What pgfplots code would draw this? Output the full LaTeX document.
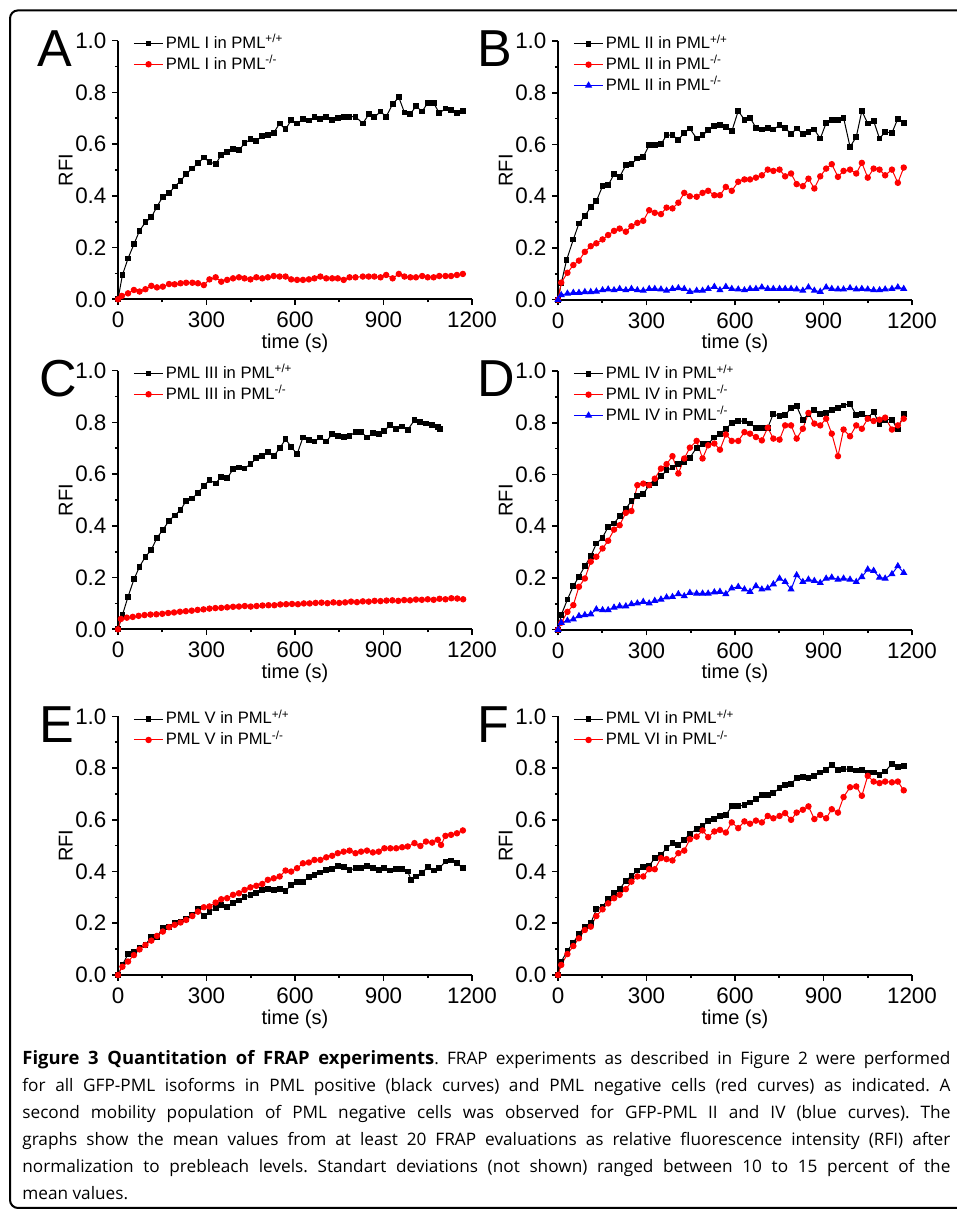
\documentclass[border=0pt]{standalone}
\usepackage{pgfplots}
\pgfplotsset{compat=1.18}
\usepackage{fontspec}
\setmainfont{Liberation Sans}
\newfontfamily\capfont{Open Sans}

\pgfplotsset{
  frap/.style={
    scale only axis, width=177pt, height=129.3pt,
    xmin=0, xmax=1200, ymin=0, ymax=1,
    axis x line*=bottom, axis y line*=left,
    axis line style={line width=1pt},
    xtick={0,300,600,900,1200}, ytick={0,0.2,0.4,0.6,0.8,1},
    minor x tick num=1, minor y tick num=1,
    tick align=outside, major tick length=2.8pt, minor tick length=1.6pt,
    every tick/.style={black, line width=0.8pt},
    tick label style={font=\fontsize{11.2}{12}\selectfont},
    /pgf/number format/assume math mode=true,
    /pgf/number format/1000 sep={},
    yticklabel style={inner sep=0pt, xshift=-2.8pt, /pgf/number format/fixed,
      /pgf/number format/fixed zerofill, /pgf/number format/precision=1},
    xlabel={time (s)}, ylabel={RFI},
    label style={font=\fontsize{11.2}{12}\selectfont},
    every axis x label/.style={at={(axis description cs:0.5,-0.19)}, anchor=base, inner sep=0pt},
    every axis y label/.style={at={(axis description cs:-0.128,0.5)}, rotate=90, anchor=base, inner sep=0pt},
    clip=false,
    legend style={at={(axis description cs:0.042,1.031)}, anchor=north west,
      draw=none, fill=none, inner sep=0pt, row sep=0pt,
      font=\fontsize{8.3}{9}\selectfont,
      nodes={inner sep=1pt, text height=6.6pt, text depth=1.8pt}},
    legend cell align=left,
    legend image code/.code={
      \draw[#1] (0cm,0cm) -- (0.52cm,0cm);
      \draw[#1] plot coordinates {(0.26cm,0cm)};
    },
  },
  pos/.style={black, line width=0.5pt, mark=square*, mark size=1.2pt},
  neg/.style={red, line width=0.5pt, mark=*, mark size=1.35pt},
  sec/.style={blue, line width=0.5pt, mark=triangle*, mark size=1.6pt},
}

\begin{document}
\frenchspacing
\begin{tikzpicture}
\useasboundingbox (0,0) rectangle (478.5pt,605.5pt);
\draw[line width=1pt, rounded corners=4pt] (5pt,1.5pt) rectangle (495pt,600.3pt);

% A
\begin{axis}[frap, at={(59pt,455.85pt)}, anchor=south west]
\addplot[pos] coordinates {(0,0) (15,0.094) (34,0.158) (54,0.213) (73,0.265) (93,0.298) (113,0.317) (132,0.358) (152,0.397) (173,0.41) (192,0.436) (212,0.457) (231,0.485) (252,0.506) (271,0.526) (291,0.548) (310,0.531) (331,0.523) (350,0.558) (370,0.571) (390,0.58) (410,0.577) (429,0.603) (449,0.619) (469,0.613) (489,0.631) (508,0.634) (528,0.644) (548,0.68) (568,0.657) (587,0.693) (607,0.68) (627,0.696) (647,0.691) (666,0.704) (686,0.698) (706,0.706) (726,0.693) (745,0.70) (765,0.706) (785,0.706) (805,0.706) (830,0.68) (850,0.715) (869,0.704) (890,0.726) (909,0.706) (931,0.755) (952,0.781) (971,0.722) (991,0.716) (1010,0.747) (1031,0.726) (1050,0.76) (1070,0.76) (1089,0.719) (1110,0.738) (1129,0.732) (1149,0.719) (1169,0.729)};
\addlegendentry{PML I in PML\textsuperscript{+/+}}
\addplot[neg] coordinates {(0,0) (13,0.013) (34,0.023) (54,0.036) (73,0.03) (93,0.039) (113,0.052) (132,0.046) (152,0.049) (173,0.059) (192,0.058) (212,0.062) (231,0.064) (252,0.064) (271,0.062) (291,0.055) (310,0.077) (331,0.085) (350,0.068) (370,0.075) (390,0.081) (410,0.085) (429,0.081) (449,0.077) (469,0.085) (489,0.081) (508,0.085) (528,0.09) (548,0.088) (568,0.088) (587,0.077) (607,0.075) (627,0.075) (647,0.077) (666,0.081) (686,0.088) (706,0.081) (726,0.081) (745,0.081) (765,0.075) (785,0.085) (805,0.085) (830,0.088) (850,0.088) (869,0.088) (890,0.085) (909,0.094) (931,0.081) (952,0.098) (971,0.088) (991,0.085) (1010,0.085) (1031,0.09) (1050,0.085) (1070,0.085) (1089,0.09) (1110,0.09) (1129,0.09) (1149,0.094) (1169,0.098)};
\addlegendentry{PML I in PML\textsuperscript{-/-}}
\end{axis}

% B
\begin{axis}[frap, at={(279pt,455.65pt)}, anchor=south west]
\addplot[pos] coordinates {(0,0) (11,0.063) (29,0.153) (52,0.233) (71,0.295) (91,0.323) (111,0.359) (130,0.381) (151,0.439) (170,0.443) (190,0.485) (209,0.475) (230,0.52) (249,0.524) (269,0.546) (289,0.552) (309,0.597) (328,0.597) (349,0.601) (368,0.636) (388,0.636) (408,0.619) (428,0.645) (447,0.662) (470,0.623) (490,0.636) (509,0.655) (530,0.671) (549,0.677) (569,0.668) (589,0.651) (611,0.73) (632,0.696) (651,0.704) (671,0.665) (691,0.658) (711,0.665) (730,0.658) (751,0.674) (770,0.665) (790,0.64) (809,0.662) (830,0.642) (849,0.649) (869,0.658) (889,0.623) (909,0.683) (928,0.696) (949,0.696) (968,0.704) (990,0.591) (1011,0.629) (1030,0.73) (1050,0.681) (1070,0.691) (1090,0.623) (1109,0.649) (1132,0.645) (1152,0.70) (1172,0.683)};
\addlegendentry{PML II in PML\textsuperscript{+/+}}
\addplot[neg] coordinates {(0,0) (11,0.066) (32,0.104) (52,0.134) (71,0.151) (91,0.185) (111,0.207) (130,0.218) (151,0.233) (170,0.25) (190,0.266) (209,0.275) (230,0.263) (249,0.284) (269,0.297) (289,0.305) (309,0.346) (328,0.336) (349,0.331) (368,0.356) (388,0.353) (408,0.375) (428,0.413) (447,0.40) (470,0.398) (490,0.413) (509,0.421) (530,0.404) (549,0.404) (569,0.436) (589,0.421) (611,0.456) (632,0.465) (651,0.465) (671,0.472) (691,0.481) (711,0.503) (730,0.498) (751,0.503) (770,0.477) (790,0.488) (809,0.447) (830,0.439) (849,0.468) (869,0.43) (889,0.477) (909,0.507) (928,0.524) (949,0.475) (968,0.498) (990,0.503) (1011,0.488) (1030,0.529) (1050,0.472) (1070,0.507) (1090,0.503) (1109,0.481) (1132,0.503) (1152,0.452) (1172,0.511)};
\addlegendentry{PML II in PML\textsuperscript{-/-}}
\addplot[sec] coordinates {(0,0) (11,0.018) (32,0.024) (52,0.027) (71,0.027) (91,0.03) (111,0.03) (130,0.032) (151,0.037) (170,0.04) (190,0.037) (209,0.042) (230,0.037) (249,0.042) (269,0.037) (289,0.035) (309,0.042) (328,0.042) (349,0.04) (368,0.035) (388,0.042) (408,0.045) (428,0.042) (447,0.031) (470,0.035) (490,0.035) (509,0.042) (530,0.05) (549,0.037) (569,0.05) (589,0.042) (611,0.04) (632,0.037) (651,0.042) (671,0.042) (691,0.048) (711,0.042) (730,0.042) (751,0.042) (770,0.042) (790,0.042) (809,0.04) (830,0.035) (849,0.048) (869,0.035) (889,0.031) (909,0.048) (928,0.042) (949,0.04) (968,0.04) (990,0.045) (1011,0.04) (1030,0.042) (1050,0.04) (1070,0.037) (1090,0.037) (1109,0.04) (1132,0.042) (1152,0.048) (1172,0.042)};
\addlegendentry{PML II in PML\textsuperscript{-/-}}
\end{axis}

% C
\begin{axis}[frap, at={(59pt,290.85pt)}, anchor=south west]
\addplot[pos] coordinates {(0,0) (15,0.055) (34,0.126) (54,0.193) (73,0.242) (93,0.281) (113,0.307) (132,0.354) (152,0.384) (173,0.42) (192,0.44) (212,0.461) (231,0.497) (252,0.506) (271,0.528) (291,0.554) (310,0.577) (331,0.564) (350,0.59) (370,0.584) (390,0.619) (410,0.626) (429,0.622) (449,0.639) (469,0.661) (489,0.67) (508,0.687) (528,0.67) (548,0.70) (568,0.735) (587,0.706) (607,0.677) (627,0.742) (647,0.732) (666,0.726) (686,0.742) (706,0.726) (726,0.755) (745,0.747) (765,0.745) (785,0.747) (805,0.764) (824,0.764) (844,0.742) (864,0.758) (884,0.755) (903,0.768) (923,0.79) (943,0.773) (963,0.784) (982,0.771) (1005,0.809) (1025,0.803) (1044,0.796) (1065,0.79) (1084,0.781) (1092,0.773)};
\addlegendentry{PML III in PML\textsuperscript{+/+}}
\addplot[neg] coordinates {(0,0) (10,0.04) (30,0.045) (50,0.048) (70,0.052) (90,0.055) (110,0.057) (130,0.058) (150,0.06) (170,0.063) (190,0.065) (210,0.068) (230,0.07) (250,0.072) (270,0.075) (290,0.077) (310,0.08) (330,0.082) (350,0.083) (370,0.085) (390,0.087) (410,0.088) (430,0.09) (450,0.088) (470,0.09) (490,0.092) (510,0.093) (530,0.093) (550,0.096) (570,0.097) (590,0.098) (610,0.097) (630,0.1) (650,0.1) (670,0.102) (690,0.103) (710,0.101) (730,0.104) (750,0.102) (770,0.104) (790,0.107) (810,0.105) (830,0.108) (850,0.107) (870,0.11) (890,0.109) (910,0.111) (930,0.112) (950,0.11) (970,0.113) (990,0.112) (1010,0.115) (1030,0.114) (1050,0.116) (1070,0.114) (1090,0.118) (1110,0.116) (1130,0.12) (1150,0.119) (1170,0.116)};
\addlegendentry{PML III in PML\textsuperscript{-/-}}
\end{axis}

% D
\begin{axis}[frap, at={(279pt,290.65pt)}, anchor=south west]
\addplot[pos] coordinates {(0,0) (11,0.057) (32,0.117) (52,0.169) (71,0.205) (91,0.246) (111,0.284) (130,0.333) (151,0.356) (170,0.398) (190,0.411) (209,0.439) (230,0.468) (249,0.498) (269,0.516) (289,0.524) (309,0.559) (328,0.568) (349,0.593) (368,0.616) (388,0.627) (408,0.64) (428,0.649) (447,0.665) (470,0.704) (490,0.717) (509,0.72) (530,0.743) (549,0.758) (569,0.777) (589,0.799) (611,0.807) (632,0.807) (651,0.797) (671,0.781) (691,0.781) (711,0.781) (730,0.835) (751,0.825) (770,0.829) (790,0.858) (809,0.864) (830,0.81) (849,0.835) (869,0.851) (889,0.835) (909,0.838) (928,0.851) (949,0.858) (968,0.867) (990,0.874) (1011,0.829) (1030,0.835) (1050,0.82) (1070,0.842) (1090,0.794) (1109,0.812) (1132,0.812) (1152,0.774) (1172,0.835)};
\addlegendentry{PML IV in PML\textsuperscript{+/+}}
\addplot[neg] coordinates {(0,0) (11,0.027) (32,0.069) (52,0.095) (71,0.166) (91,0.198) (111,0.263) (130,0.282) (151,0.314) (170,0.344) (190,0.387) (209,0.404) (230,0.452) (249,0.459) (269,0.559) (289,0.565) (309,0.559) (328,0.584) (349,0.623) (368,0.64) (388,0.671) (408,0.604) (428,0.662) (447,0.704) (470,0.73) (490,0.662) (509,0.713) (530,0.72) (549,0.696) (569,0.755) (589,0.73) (611,0.73) (632,0.764) (651,0.758) (671,0.745) (691,0.732) (711,0.781) (730,0.739) (751,0.735) (770,0.79) (790,0.79) (809,0.739) (830,0.777) (849,0.838) (869,0.797) (889,0.79) (909,0.816) (928,0.758) (949,0.671) (968,0.774) (990,0.748) (1011,0.79) (1030,0.777) (1050,0.816) (1070,0.807) (1090,0.812) (1109,0.82) (1132,0.774) (1152,0.79) (1172,0.816)};
\addlegendentry{PML IV in PML\textsuperscript{-/-}}
\addplot[sec] coordinates {(0,0) (11,0.027) (32,0.035) (52,0.04) (71,0.053) (91,0.057) (111,0.06) (130,0.079) (151,0.076) (170,0.076) (190,0.086) (209,0.091) (230,0.091) (249,0.099) (269,0.102) (289,0.108) (309,0.102) (328,0.112) (349,0.117) (368,0.125) (388,0.127) (408,0.138) (428,0.13) (447,0.143) (470,0.14) (490,0.14) (509,0.14) (530,0.145) (549,0.147) (569,0.138) (589,0.16) (611,0.166) (632,0.156) (651,0.147) (671,0.169) (691,0.156) (711,0.16) (730,0.176) (751,0.198) (770,0.185) (790,0.156) (809,0.211) (830,0.185) (849,0.194) (869,0.189) (889,0.181) (909,0.198) (928,0.202) (949,0.194) (968,0.198) (990,0.194) (1011,0.185) (1030,0.204) (1050,0.233) (1070,0.228) (1090,0.202) (1109,0.198) (1132,0.215) (1152,0.246) (1172,0.22)};
\addlegendentry{PML IV in PML\textsuperscript{-/-}}
\end{axis}

% E
\begin{axis}[frap, at={(59pt,118pt)}, anchor=south west]
\addplot[pos] coordinates {(0,0) (15,0.039) (34,0.081) (54,0.09) (73,0.103) (93,0.116) (113,0.148) (132,0.148) (152,0.181) (173,0.187) (192,0.20) (212,0.206) (231,0.215) (252,0.232) (271,0.254) (291,0.228) (310,0.245) (331,0.258) (350,0.271) (370,0.262) (390,0.277) (410,0.288) (429,0.301) (449,0.31) (469,0.316) (489,0.329) (508,0.332) (528,0.329) (548,0.332) (568,0.326) (587,0.348) (607,0.361) (627,0.361) (647,0.378) (666,0.387) (686,0.396) (706,0.406) (726,0.409) (745,0.422) (765,0.419) (785,0.406) (805,0.413) (824,0.413) (844,0.422) (864,0.413) (884,0.406) (903,0.413) (923,0.404) (943,0.409) (963,0.409) (982,0.40) (994,0.368) (1010,0.381) (1031,0.394) (1050,0.419) (1070,0.404) (1089,0.413) (1110,0.439) (1129,0.443) (1149,0.432) (1169,0.413)};
\addlegendentry{PML V in PML\textsuperscript{+/+}}
\addplot[neg] coordinates {(0,0) (15,0.032) (34,0.052) (54,0.077) (73,0.099) (93,0.116) (113,0.133) (132,0.151) (152,0.168) (173,0.185) (192,0.194) (212,0.203) (231,0.213) (252,0.228) (271,0.245) (291,0.262) (310,0.265) (331,0.28) (350,0.293) (370,0.297) (390,0.31) (410,0.316) (429,0.329) (449,0.339) (469,0.345) (489,0.352) (508,0.368) (528,0.374) (548,0.381) (568,0.404) (587,0.40) (607,0.413) (627,0.432) (647,0.435) (666,0.445) (686,0.445) (706,0.455) (726,0.461) (745,0.471) (765,0.477) (785,0.481) (805,0.471) (824,0.477) (844,0.481) (864,0.474) (884,0.477) (903,0.49) (923,0.49) (943,0.49) (963,0.494) (982,0.497) (1005,0.51) (1025,0.499) (1044,0.516) (1065,0.512) (1084,0.523) (1095,0.503) (1110,0.538) (1129,0.542) (1149,0.548) (1169,0.559)};
\addlegendentry{PML V in PML\textsuperscript{-/-}}
\end{axis}

% F
\begin{axis}[frap, at={(279pt,118pt)}, anchor=south west]
\addplot[pos] coordinates {(0,0) (11,0.052) (32,0.094) (52,0.125) (71,0.159) (91,0.187) (111,0.20) (130,0.254) (151,0.265) (170,0.293) (190,0.316) (209,0.332) (230,0.365) (249,0.383) (269,0.404) (289,0.419) (309,0.422) (328,0.452) (349,0.465) (368,0.49) (388,0.51) (408,0.503) (428,0.523) (447,0.546) (470,0.564) (490,0.577) (509,0.594) (530,0.603) (549,0.615) (569,0.619) (589,0.652) (611,0.652) (632,0.658) (651,0.667) (671,0.68) (691,0.697) (711,0.697) (730,0.703) (751,0.723) (770,0.735) (790,0.739) (809,0.761) (830,0.765) (849,0.761) (869,0.77) (889,0.783) (909,0.794) (928,0.813) (949,0.794) (968,0.796) (990,0.796) (1011,0.791) (1030,0.794) (1050,0.783) (1070,0.783) (1090,0.774) (1109,0.787) (1132,0.817) (1152,0.804) (1172,0.809)};
\addlegendentry{PML VI in PML\textsuperscript{+/+}}
\addplot[neg] coordinates {(0,0) (11,0.039) (32,0.081) (52,0.112) (71,0.142) (91,0.174) (111,0.187) (130,0.228) (151,0.254) (170,0.277) (190,0.297) (209,0.31) (230,0.332) (249,0.361) (269,0.381) (289,0.381) (309,0.409) (328,0.409) (349,0.452) (368,0.448) (388,0.443) (408,0.471) (428,0.481) (447,0.525) (470,0.535) (490,0.559) (509,0.533) (530,0.555) (549,0.561) (569,0.551) (589,0.59) (611,0.568) (632,0.594) (651,0.585) (671,0.597) (691,0.59) (711,0.615) (730,0.606) (751,0.615) (770,0.626) (790,0.60) (809,0.628) (830,0.639) (849,0.652) (869,0.603) (889,0.619) (909,0.606) (928,0.641) (949,0.628) (968,0.688) (990,0.726) (1011,0.729) (1030,0.693) (1050,0.77) (1070,0.748) (1090,0.742) (1109,0.748) (1132,0.745) (1152,0.748) (1172,0.714)};
\addlegendentry{PML VI in PML\textsuperscript{-/-}}
\end{axis}

% panel letters
\begin{scope}[every node/.style={font=\fontsize{26}{26}\selectfont, anchor=base west, inner sep=0pt}]
\node at (18.5pt,572.2pt) {A};
\node at (238.5pt,572.2pt) {B};
\node at (19.5pt,407pt) {C};
\node at (238.5pt,407pt) {D};
\node at (19.5pt,234pt) {E};
\node at (238.5pt,234pt) {F};
\end{scope}

% caption, one justified box per line
\node[anchor=north west, inner sep=0pt, align=left,
  font=\capfont\fontsize{8.6}{13.5}\selectfont] at (11pt,80.5pt)
{\makebox[464pt][s]{{\fontsize{9.2}{13.5}\selectfont\textbf{Figure 3 Quantitation of FRAP experiments}}. FRAP experiments as described in Figure 2 were performed}\\
\makebox[464pt][s]{for all GFP-PML isoforms in PML positive (black curves) and PML negative cells (red curves) as indicated. A}\\
\makebox[464pt][s]{second mobility population of PML negative cells was observed for GFP-PML II and IV (blue curves). The}\\
\makebox[464pt][s]{graphs show the mean values from at least 20 FRAP evaluations as relative fluorescence intensity (RFI) after}\\
\makebox[464pt][s]{normalization to prebleach levels. Standart deviations (not shown) ranged between 10 to 15 percent of the}\\
mean values.};
\end{tikzpicture}
\end{document}
